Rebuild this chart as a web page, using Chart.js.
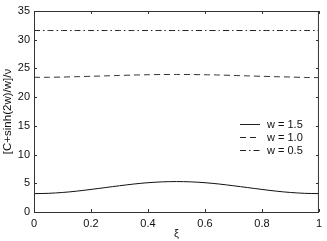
<!DOCTYPE html>
<html>
  <head>
    <meta charset="utf-8">
    <title>xi plot</title>
    <script src="https://cdn.jsdelivr.net/npm/chart.js@4.4.1/dist/chart.umd.min.js"></script>
    <style>
      html, body { margin: 0; padding: 0; background: #ffffff; overflow: hidden; }
    </style>
  </head>
  <body>
    <canvas id="myChart" width="327" height="241"></canvas>
  <script>
    // values
    const xi = [0, 0.05, 0.1, 0.15, 0.2, 0.25, 0.3, 0.35, 0.4, 0.45, 0.5,
                0.55, 0.6, 0.65, 0.7, 0.75, 0.8, 0.85, 0.9, 0.95, 1];
    const w15 = [3.2, 3.25, 3.4, 3.63, 3.93, 4.25, 4.57, 4.87, 5.1, 5.25, 5.3,
                 5.25, 5.1, 4.87, 4.57, 4.25, 3.93, 3.63, 3.4, 3.25, 3.2];
    const w10 = [23.45, 23.46, 23.5, 23.56, 23.63, 23.7, 23.78, 23.85, 23.9, 23.94, 23.95,
                 23.94, 23.9, 23.85, 23.78, 23.7, 23.63, 23.56, 23.5, 23.43, 23.4];
    const w05 = [31.6, 31.6, 31.6, 31.6, 31.6, 31.6, 31.6, 31.6, 31.6, 31.6, 31.6,
                 31.6, 31.6, 31.6, 31.6, 31.6, 31.6, 31.6, 31.6, 31.6, 31.6];
    const seriesNames = ['w = 1.5', 'w = 1.0', 'w = 0.5'];
    const xTicks = [0, 0.2, 0.4, 0.6, 0.8, 1];
    const yTicks = [0, 5, 10, 15, 20, 25, 30, 35];

    const font = "'Liberation Sans', Arial, sans-serif";
    const dashes = [[], [6, 4], [6, 3, 1.5, 3]];

    function pts(ys) {
      return xi.map(function(x, i) { return { x: x, y: ys[i] }; });
    }

    // box, inward ticks and legend like the matlab figure
    const boxPlugin = {
      id: 'boxPlugin',
      afterDraw: function(chart) {
        const ctx = chart.ctx;
        const a = chart.chartArea;
        const xs = chart.scales.x, ys = chart.scales.y;
        ctx.save();
        ctx.strokeStyle = '#333';
        ctx.lineWidth = 1;
        ctx.strokeRect(a.left + 0.5, a.top + 0.5, a.right - a.left - 1, a.bottom - a.top);
        ctx.beginPath();
        xTicks.forEach(function(t) {
          const px = Math.round(xs.getPixelForValue(t)) + 0.5;
          ctx.moveTo(px, a.bottom); ctx.lineTo(px, a.bottom - 3);
          ctx.moveTo(px, a.top); ctx.lineTo(px, a.top + 3);
        });
        yTicks.forEach(function(t) {
          const py = Math.round(ys.getPixelForValue(t)) + 0.5;
          ctx.moveTo(a.left, py); ctx.lineTo(a.left + 3, py);
          ctx.moveTo(a.right, py); ctx.lineTo(a.right - 3, py);
        });
        ctx.stroke();

        // legend
        ctx.font = '11px ' + font;
        ctx.fillStyle = '#111';
        ctx.textBaseline = 'middle';
        seriesNames.forEach(function(name, i) {
          const y = 124.5 + i * 13;
          ctx.beginPath();
          ctx.setLineDash(dashes[i]);
          ctx.strokeStyle = '#222';
          ctx.moveTo(240, y); ctx.lineTo(260, y);
          ctx.stroke();
          ctx.setLineDash([]);
          ctx.fillText(name, 267, y);
        });
        ctx.restore();
      }
    };

    const colors = ['#111', '#333', '#222'];
    const ctx = document.getElementById('myChart').getContext('2d');
    const myChart = new Chart(ctx, {
      type: 'line',
      data: {
        datasets: [w15, w10, w05].map(function(ys, i) {
          return {
            label: seriesNames[i],
            data: pts(ys),
            borderColor: colors[i],
            borderWidth: 1,
            borderDash: dashes[i],
            pointRadius: 0,
            tension: 0.3,
            fill: false
          };
        })
      },
      options: {
        responsive: false,
        animation: false,
        devicePixelRatio: 1,
        layout: { padding: { top: 11, right: 8, left: 0, bottom: 0 } },
        plugins: { legend: { display: false }, tooltip: { enabled: false } },
        scales: {
          x: {
            type: 'linear', min: 0, max: 1,
            afterBuildTicks: function(s) { s.ticks = xTicks.map(function(v) { return { value: v }; }); },
            grid: { display: false, drawTicks: false },
            border: { display: false },
            ticks: { color: '#111', padding: 5, maxRotation: 0, font: { family: font, size: 11 },
                     callback: function(v) { return String(v); } },
            title: { display: true, text: 'ξ', color: '#111', padding: { top: 0, bottom: 0 },
                     font: { family: font, size: 11 } },
            afterFit: function(s) { s.height = 29; }
          },
          y: {
            min: 0, max: 35,
            afterBuildTicks: function(s) { s.ticks = yTicks.map(function(v) { return { value: v }; }); },
            grid: { display: false, drawTicks: false },
            border: { display: false },
            ticks: { color: '#111', padding: 4, font: { family: font, size: 11 } },
            title: { display: true, text: '[C+sinh(2w)/w]/ν', color: '#111', padding: { top: 1, bottom: 0 },
                     font: { family: font, size: 11.5 } },
            afterFit: function(s) { s.width = 34; }
          }
        }
      },
      plugins: [boxPlugin]
    });
  </script>
  </body>
</html>
